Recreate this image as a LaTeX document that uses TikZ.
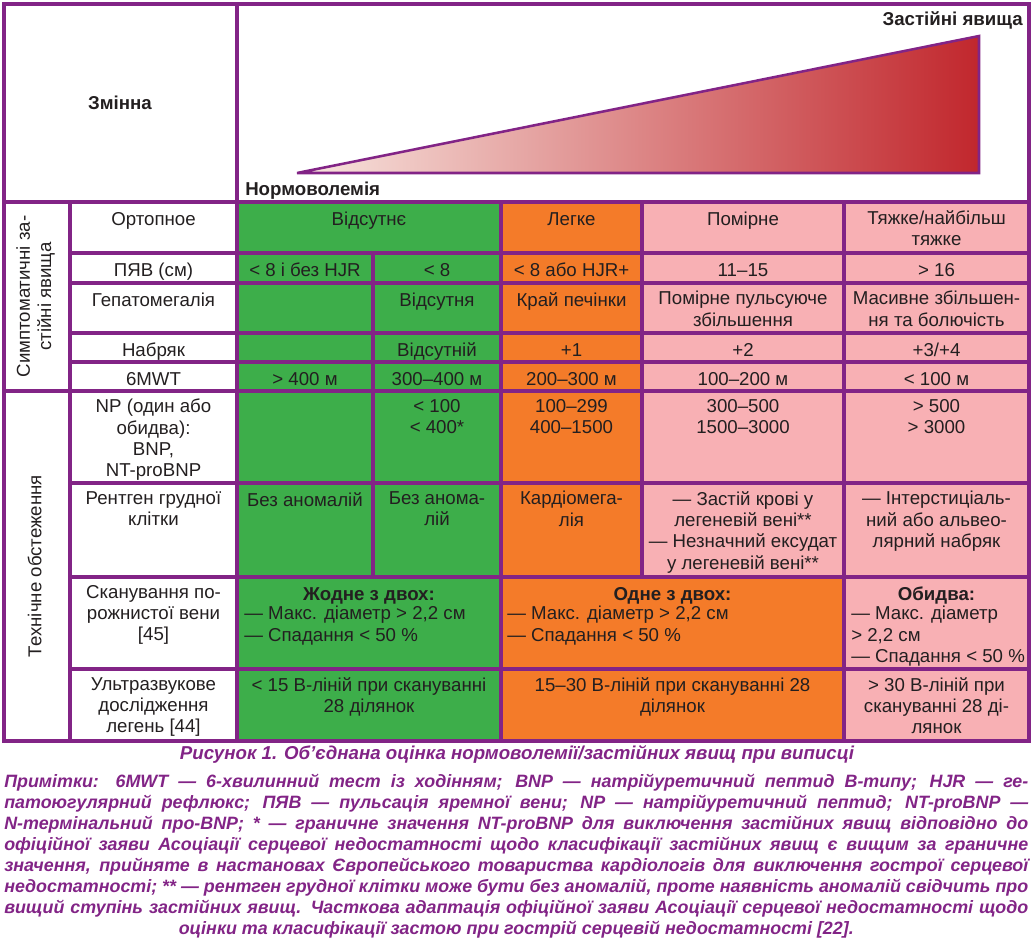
\documentclass[tikz,border=0pt]{standalone}
\usepackage{fontspec}
\setmainfont{Liberation Sans}
\usetikzlibrary{positioning}

\definecolor{frame}{RGB}{130,36,134}
\definecolor{ink}{RGB}{35,31,32}
\definecolor{okgreen}{RGB}{61,174,74}
\definecolor{mildorange}{RGB}{244,123,41}
\definecolor{sevpink}{RGB}{248,176,180}
\definecolor{triL}{RGB}{248,230,224}
\definecolor{triR}{RGB}{193,39,45}

\newcommand{\cellfont}{\fontsize{14}{16}\selectfont}
\newcommand{\capfont}{\fontsize{14}{16}\selectfont\bfseries\itshape}
\newcommand{\notefont}{\fontsize{13.4}{15.75}\selectfont\bfseries\itshape}

\begin{document}
\begin{tikzpicture}[
    x=0.75pt, y=-0.75pt,
    grid/.style={draw=frame, line width=2.4pt},
    cell/.style={anchor=north, align=center, inner sep=0pt, font=\cellfont, text=ink, execute at begin node=\strut},
    title/.style={cell, font=\cellfont\bfseries},
    list/.style={cell, anchor=north west, align=left},
    head/.style={inner sep=0pt, font=\cellfont\bfseries, text=ink},
    group/.style={cell, anchor=center, rotate=90},
    caption/.style={anchor=base, inner sep=0pt, font=\capfont, text=frame},
    notes/.style={anchor=north west, inner sep=0pt, text width=768pt, align=justify, font=\notefont, text=frame,
        execute at begin node={\hyphenpenalty=10000\exhyphenpenalty=10000\strut}}
]
    \useasboundingbox (0,0) rectangle (1035,944);

    % Fills
    \fill[okgreen] (237,202) rectangle (501,741);
    \fill[mildorange] (501,202) rectangle (642,577);
    \fill[mildorange] (501,577) rectangle (844,741);
    \fill[sevpink] (642,202) rectangle (1029,577);
    \fill[sevpink] (844,577) rectangle (1029,741);

    % Scale triangle
    \shadedraw[draw=frame, line width=1.9pt, left color=triL, right color=triR] (297,173) -- (979,173) -- (979,36) -- cycle;

    % Grid
    \draw[grid] (4,4) rectangle (1029,741);
    \draw[grid] (4,202) -- (1029,202);
    \draw[grid] (4,391) -- (1029,391);
    \draw[grid] (70,253) -- (1029,253);
    \draw[grid] (70,283) -- (1029,283);
    \draw[grid] (70,333) -- (1029,333);
    \draw[grid] (70,362) -- (1029,362);
    \draw[grid] (70,483) -- (1029,483);
    \draw[grid] (70,577) -- (1029,577);
    \draw[grid] (70,669) -- (1029,669);
    \draw[grid] (70,202) -- (70,741);
    \draw[grid] (237,4) -- (237,741);
    \draw[grid] (373,253) -- (373,577);
    \draw[grid] (501,202) -- (501,741);
    \draw[grid] (642,202) -- (642,577);
    \draw[grid] (844,202) -- (844,741);

    % Header
    \node[head] (var) at (120,103) {Змінна};
    \node[head, anchor=base west] (normo) at (245,196) {Нормоволемія};
    \node[head, anchor=base east] (congest) at (1023,26) {Застійні явища};

    % Groups
    \node[group] (symp) at (37,296.5) {Симптоматичні за-\\стійні явища};
    \node[group] (tech) at (37,566) {Технічне обстеження};

    % Ортопное
    \node[cell] (ortho) at (153.5,210) {Ортопное};
    \node[cell] (ortho1) at (369,210) {Відсутнє};
    \node[cell] (ortho3) at (571.5,210) {Легке};
    \node[cell] (ortho4) at (743,210) {Помірне};
    \node[cell] (ortho5) at (936.5,210) {Тяжке/найбільш\\тяжке};

    % ПЯВ
    \node[cell] (pjav) at (153.5,261) {ПЯВ (см)};
    \node[cell] (pjav1) at (305,261) {< 8 і без HJR};
    \node[cell] (pjav2) at (437,261) {< 8};
    \node[cell] (pjav3) at (571.5,261) {< 8 або HJR+};
    \node[cell] (pjav4) at (743,261) {11–15};
    \node[cell] (pjav5) at (936.5,261) {> 16};

    % Гепатомегалія
    \node[cell] (hepat) at (153.5,291) {Гепатомегалія};
    \node[cell] (hepat2) at (437,291) {Відсутня};
    \node[cell] (hepat3) at (571.5,291) {Край печінки};
    \node[cell] (hepat4) at (743,291) {Помірне пульсуюче\\збільшення};
    \node[cell] (hepat5) at (936.5,291) {Масивне збільшен-\\ня та болючість};

    % Набряк
    \node[cell] (edema) at (153.5,341) {Набряк};
    \node[cell] (edema2) at (437,341) {Відсутній};
    \node[cell] (edema3) at (571.5,341) {+1};
    \node[cell] (edema4) at (743,341) {+2};
    \node[cell] (edema5) at (936.5,341) {+3/+4};

    % 6MWT
    \node[cell] (walk) at (153.5,370) {6MWT};
    \node[cell] (walk1) at (305,370) {> 400 м};
    \node[cell] (walk2) at (437,370) {300–400 м};
    \node[cell] (walk3) at (571.5,370) {200–300 м};
    \node[cell] (walk4) at (743,370) {100–200 м};
    \node[cell] (walk5) at (936.5,370) {< 100 м};

    % NP
    \node[cell] (np) at (153.5,399) {NP (один або\\обидва):\\BNP,\\NT-proBNP};
    \node[cell] (np2) at (437,399) {< 100\\< 400*};
    \node[cell] (np3) at (571.5,399) {100–299\\400–1500};
    \node[cell] (np4) at (743,399) {300–500\\1500–3000};
    \node[cell] (np5) at (936.5,399) {> 500\\> 3000};

    % Рентген
    \node[cell] (xray) at (153.5,491) {Рентген грудної\\клітки};
    \node[cell] (xray1) at (305,491) {Без аномалій};
    \node[cell] (xray2) at (437,491) {Без анома-\\лій};
    \node[cell] (xray3) at (571.5,491) {Кардіомега-\\лія};
    \node[cell] (xray4) at (743,491) {— Застій крові у\\легеневій вені**\\— Незначний ексудат\\у легеневій вені**};
    \node[cell] (xray5) at (936.5,491) {— Інтерстиціаль-\\ний або альвео-\\лярний набряк};

    % Сканування вени
    \node[cell] (vena) at (153.5,585) {Сканування по-\\рожнистої вени\\{}[45]};
    \node[title] (vena1) at (369,585) {Жодне з двох:};
    \node[list] (vena1l) at (244,606) {— Макс. діаметр > 2,2 см\\— Спадання < 50 \%};
    \node[title] (vena3) at (672.5,585) {Одне з двох:};
    \node[list] (vena3l) at (507,606) {— Макс. діаметр > 2,2 см\\— Спадання < 50 \%};
    \node[title] (vena5) at (936.5,585) {Обидва:};
    \node[list] (vena5l) at (851,606) {— Макс. діаметр\\> 2,2 см\\— Спадання < 50 \%};

    % УЗД легень
    \node[cell] (lung) at (153.5,677) {Ультразвукове\\дослідження\\легень [44]};
    \node[cell] (lung1) at (369,677) {< 15 В-ліній при скануванні\\28 ділянок};
    \node[cell] (lung3) at (672.5,677) {15–30 В-ліній при скануванні 28\\ділянок};
    \node[cell] (lung5) at (936.5,677) {> 30 В-ліній при\\скануванні 28 ді-\\лянок};

    % Caption
    \node[caption] (cap) at (517,759) {Рисунок 1. Об’єднана оцінка нормоволемії/застійних явищ при виписці};
    \node[notes] (notes) at (4,773) {Примітки: 6MWT — 6-хвилинний тест із ходінням; BNP — натрійуретичний пептид В-типу; HJR — ге-\linebreak
        патоюгулярний рефлюкс; ПЯВ — пульсація яремної вени; NP — натрійуретичний пептид; NT-proBNP —\linebreak
        N-термінальний про-BNP; * — граничне значення NT-proBNP для виключення застійних явищ відповідно до\linebreak
        офіційної заяви Асоціації серцевої недостатності щодо класифікації застійних явищ є вищим за граничне\linebreak
        значення, прийняте в настановах Європейського товариства кардіологів для виключення гострої серцевої\linebreak
        недостатності; ** — рентген грудної клітки може бути без аномалій, проте наявність аномалій свідчить про\linebreak
        вищий ступінь застійних явищ. Часткова адаптація офіційної заяви Асоціації серцевої недостатності щодо\parfillskip=0pt\par
        \centerline{оцінки та класифікації застою при гострій серцевій недостатності [22].}};
\end{tikzpicture}
\end{document}
